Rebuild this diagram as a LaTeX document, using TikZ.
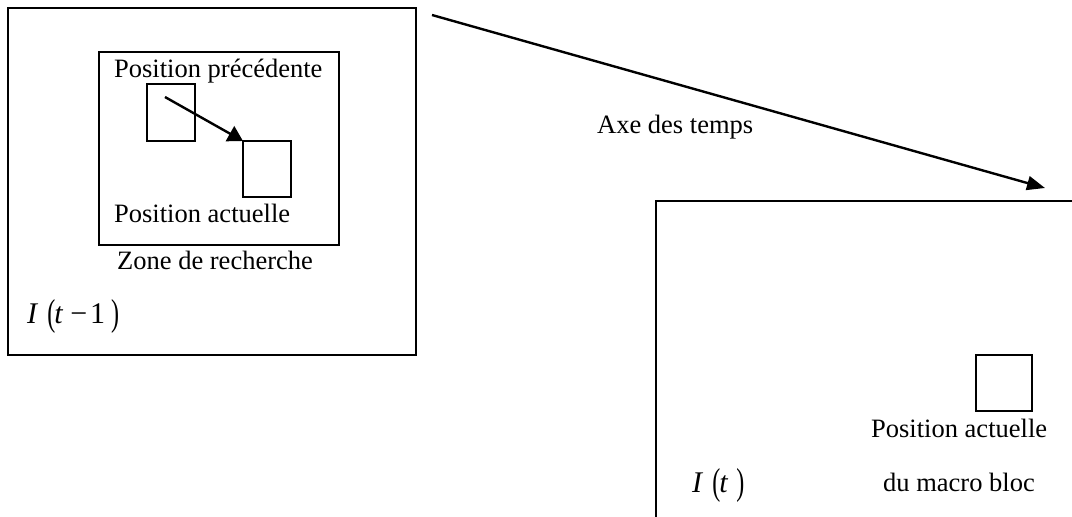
\documentclass[tikz,border=0pt]{standalone}
\usepackage{fontspec}
\usepackage{graphicx}
\setmainfont{Liberation Serif}
\usetikzlibrary{arrows.meta}
\newcommand{\tparen}[1]{\raisebox{-2pt}{\scalebox{0.8}[1.25]{#1}}}
\begin{document}
\begin{tikzpicture}[x=1pt,y=-1pt,
  frame/.style={draw,line width=2.4pt,inner sep=0pt,outer sep=0pt,anchor=north west},
  lbl/.style={anchor=base west,inner sep=0pt,font=\fontsize{26.5}{30}\selectfont},
  mlbl/.style={anchor=base west,inner sep=0pt,font=\fontsize{30}{34}\selectfont},
  conn/.style={line width=2.4pt}]
\useasboundingbox (0,0) rectangle (1072,517);
% frame t-1
\node[frame,minimum width=408pt,minimum height=347pt] (prev) at (8,8) {};
\node[frame,minimum width=240pt,minimum height=193pt] (zone) at (99,52) {};
\node[frame,minimum width=48pt,minimum height=57pt] (sq1) at (147,84) {};
\node[frame,minimum width=48pt,minimum height=56pt] (sq2) at (243,141) {};
\node[lbl] (tprec) at (114,77) {Position précédente};
\node[lbl] (tact) at (114,222) {Position actuelle};
\node[lbl] (tzone) at (117,269) {Zone de recherche};
\node[mlbl] (itm) at (27,323) {\textit{I}\hspace{9pt}\tparen{(}\hspace{-1pt}\textit{t}\hspace{7pt}−\hspace{3pt}1\hspace{6pt}\tparen{)}};
\coordinate (ms) at (165,97);
\draw[conn,-{Triangle[length=15pt,width=17pt]}] (ms) -- (sq2.north west);
% frame t
\begin{scope}
\clip (0,0) rectangle (1072,517);
\node[frame,minimum width=440pt,minimum height=340pt] (cur) at (656,201) {};
\end{scope}
\node[frame,minimum width=56pt,minimum height=56pt] (sq3) at (976,355) {};
\node[lbl] (tact2) at (871,437) {Position actuelle};
\node[lbl] (tmacro) at (883,491) {du macro bloc};
\node[mlbl] (it) at (692,492) {\textit{I}\hspace{9pt}\tparen{(}\hspace{-1pt}\textit{t}\hspace{8pt}\tparen{)}};
% time axis
\coordinate (ts) at (432,15);
\coordinate (te) at (1045,188);
\draw[conn,-{Triangle[length=18pt,width=14pt]}] (ts) -- (te);
\node[lbl] (taxe) at (597,133) {Axe des temps};
\end{tikzpicture}
\end{document}
